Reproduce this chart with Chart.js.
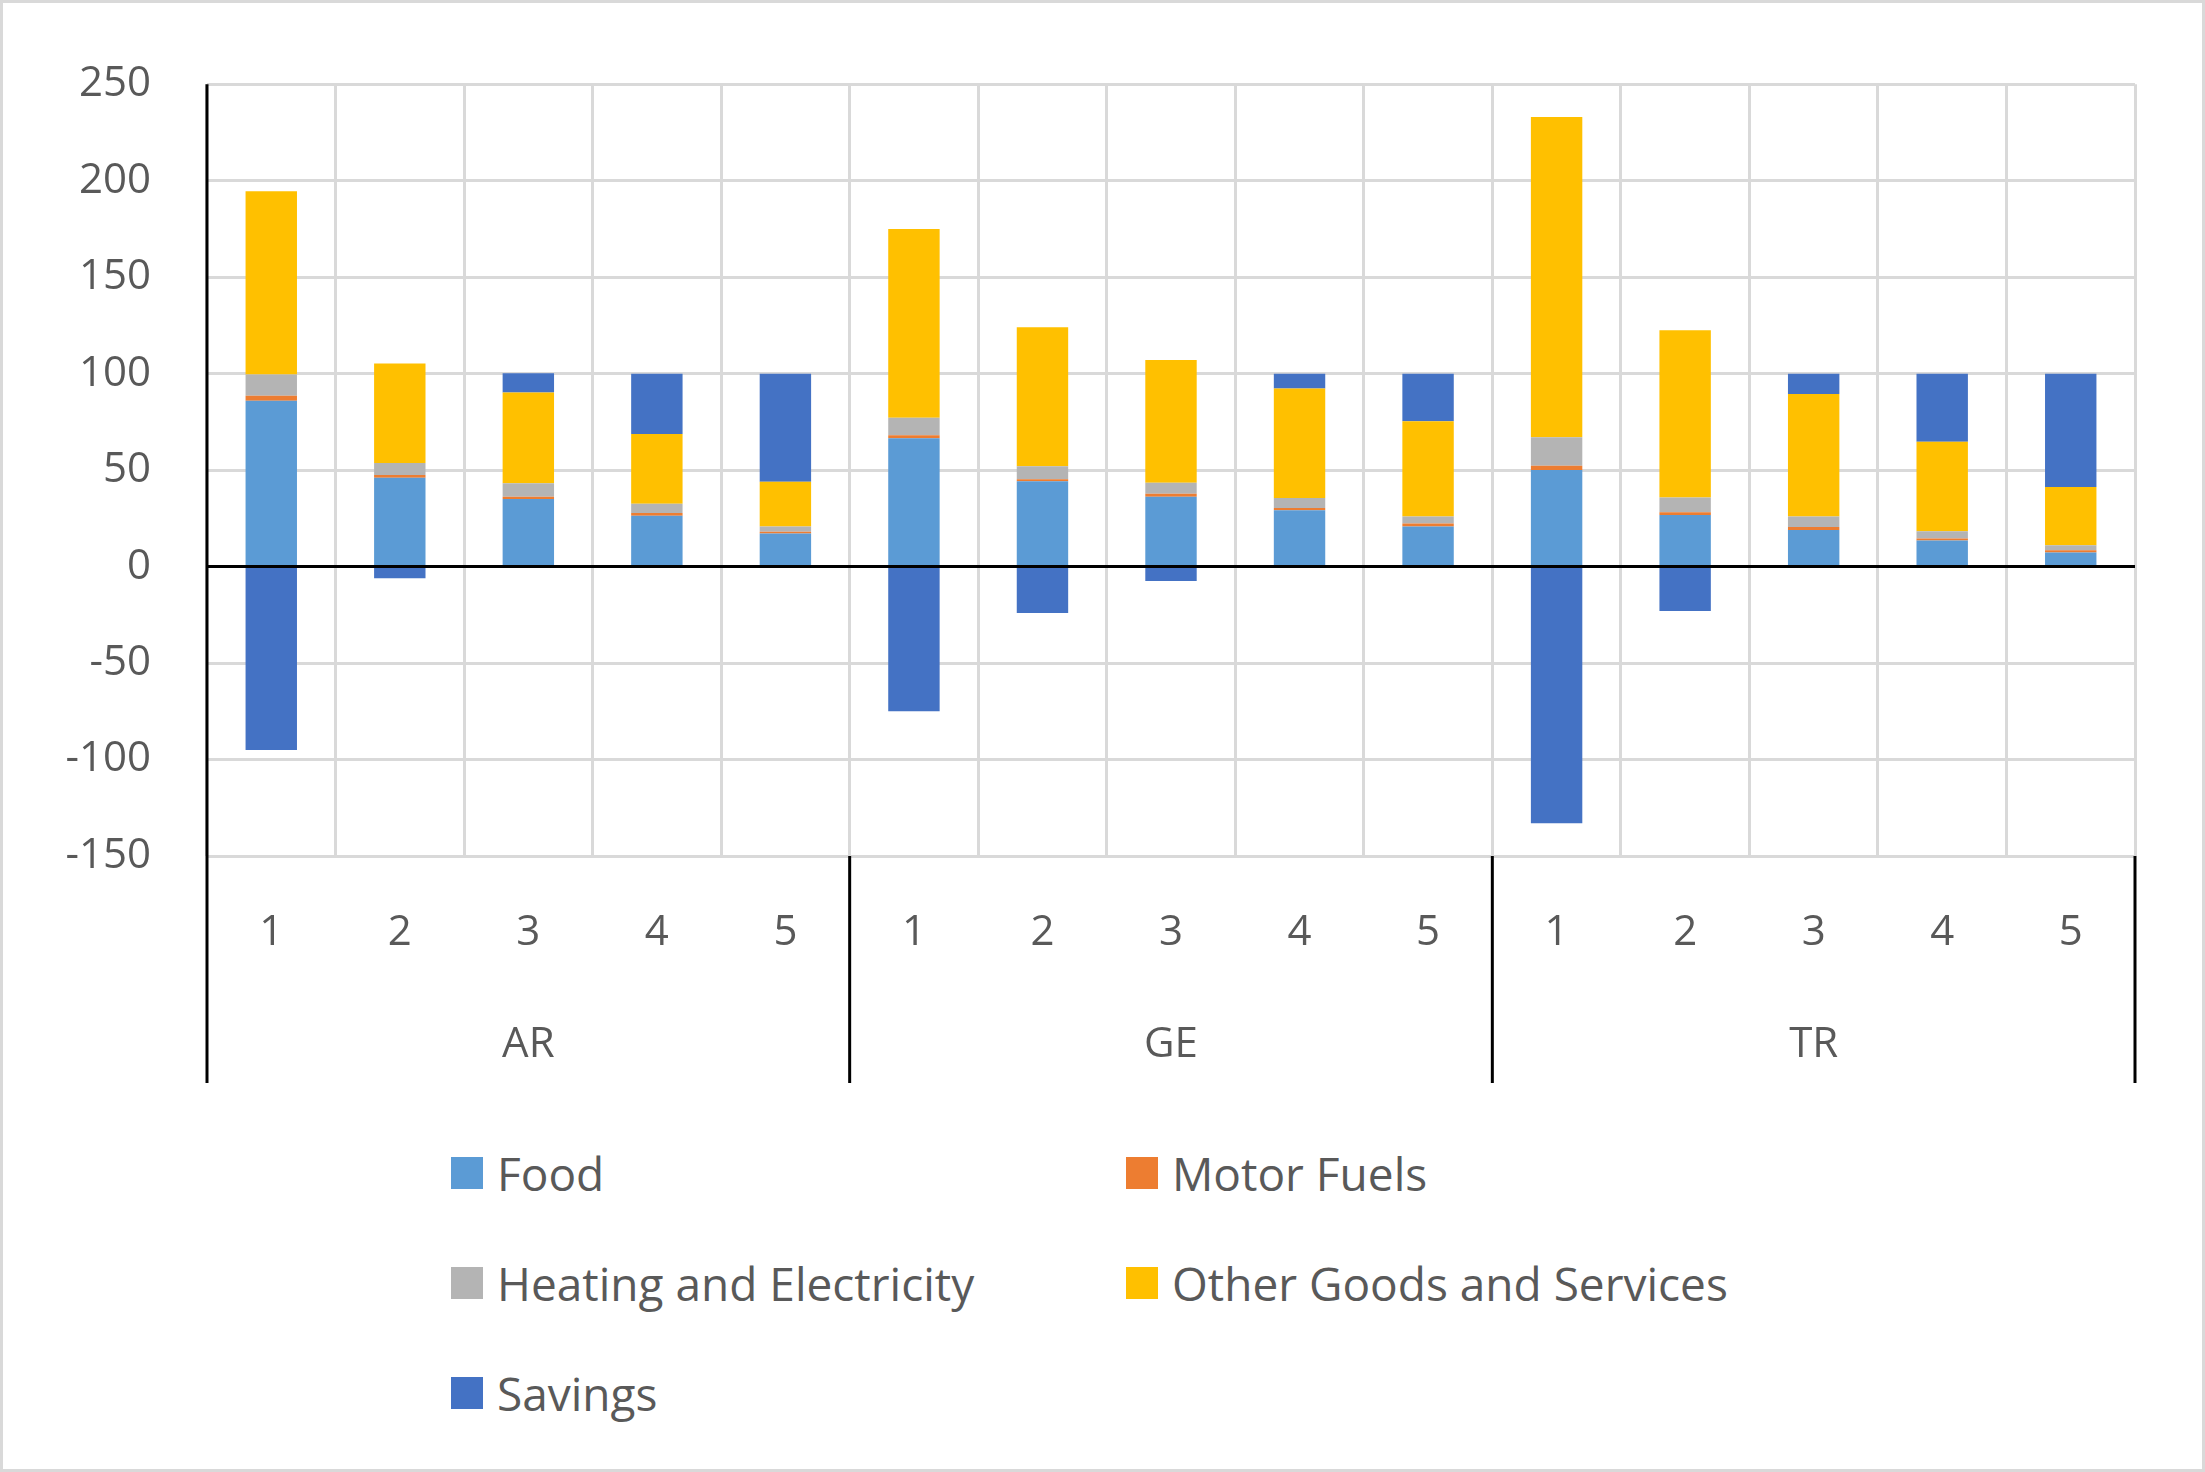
<!DOCTYPE html>
<html>
<head>
<meta charset="utf-8">
<script src="https://cdn.jsdelivr.net/npm/chart.js@4"></script>
<style>
  body { margin: 0; background: #fff; }
  #wrap { position: relative; width: 2205px; height: 1472px; box-sizing: border-box; border: 3px solid #d9d9d9; }
  #chartCanvas { position: absolute; left: 0; top: 0; }
  #legend { position: absolute; left: 448px; top: 1135px; display: grid; grid-template-columns: 675px 675px; row-gap: 40px;
            font-family: "Open Sans", Lato, sans-serif; font-size: 46px; color: #595959; }
  .item { display: flex; align-items: center; height: 70px; }
  .sw { width: 32px; height: 32px; margin-right: 14px; }
</style>
</head>
<body>
<div id="wrap">
  <canvas id="chartCanvas" width="2205" height="1100" style="width:2205px;height:1100px"></canvas>
  <div id="legend"></div>
</div>
<script>
const groups = ['AR', 'GE', 'TR'];
const quintiles = ['1', '2', '3', '4', '5'];
const labels = groups.flatMap(g => quintiles.map(q => q));

const food      = [86, 46, 35, 26.3, 17.2,   66.5, 44.2, 36.2, 29.2, 20.8,   50, 26.7, 19, 13.5, 7.3];
const motorFuel = [2.5, 1.5, 1.2, 1.5, 0.8,  1.5, 1, 1.5, 1.1, 1.5,          2.3, 1.5, 1.5, 1.1, 1.1];
const heating   = [11, 6.2, 7, 4.7, 2.8,     9.1, 6.8, 5.8, 5.2, 3.7,        14.7, 7.6, 5.5, 3.7, 2.6];
const other     = [95, 51.5, 47, 36.2, 23.1, 97.9, 72, 63.5, 56.8, 49.3,     166, 86.7, 63.4, 46.4, 30.3];
const savings   = [-95, -6, 10, 31.3, 56.1,  -75, -24, -7.5, 7.7, 24.7,      -133, -23, 10.6, 35.3, 58.7];

const series = [
    { label: 'Food', data: food, color: '#5b9bd5' },
    { label: 'Motor Fuels', data: motorFuel, color: '#ed7d31' },
    { label: 'Heating and Electricity', data: heating, color: '#b4b4b4' },
    { label: 'Other Goods and Services', data: other, color: '#ffc000' },
    { label: 'Savings', data: savings, color: '#4472c4' }
];

const textColor = '#595959';
const font = { family: '"Open Sans", Lato, sans-serif', size: 42 };

const groupPlugin = {
    id: 'groups',
    afterDraw(chart) {
        const ctx = chart.ctx;
        const x = chart.scales.x;
        const area = chart.chartArea;
        const step = (area.right - area.left) / labels.length;
        ctx.save();
        ctx.strokeStyle = '#000';
        ctx.lineWidth = 3;
        for (let i = 0; i <= groups.length; i++) {
            const px = area.left + i * quintiles.length * step;
            ctx.beginPath();
            ctx.moveTo(px, area.bottom);
            ctx.lineTo(px, 1080);
            ctx.stroke();
        }
        ctx.fillStyle = textColor;
        ctx.font = `42px ${font.family}`;
        ctx.textAlign = 'center';
        ctx.textBaseline = 'middle';
        groups.forEach((g, i) => {
            const cx = area.left + (i + 0.5) * quintiles.length * step;
            ctx.fillText(g, cx, 1042);
        });
        // y axis line
        ctx.beginPath();
        ctx.moveTo(area.left, area.top);
        ctx.lineTo(area.left, area.bottom);
        ctx.stroke();
        ctx.restore();
    }
};

new Chart(document.getElementById('chartCanvas'), {
    type: 'bar',
    data: {
        labels,
        datasets: series.map(s => ({
            label: s.label, data: s.data, backgroundColor: s.color,
            barPercentage: 0.4, categoryPercentage: 1
        }))
    },
    options: {
        responsive: false,
        animation: false,
        layout: { padding: { top: 74, right: 73, left: 0, bottom: 0 } },
        plugins: { legend: { display: false }, tooltip: { enabled: false } },
        scales: {
            x: {
                stacked: true,
                grid: { offset: true, color: '#d9d9d9', lineWidth: 3, drawTicks: false },
                border: { display: false },
                ticks: { color: textColor, font, padding: 52 },
                afterFit: s => { s.height = 1100 - 74 - 779; }
            },
            y: {
                stacked: true,
                min: -150, max: 250,
                ticks: { stepSize: 50, color: textColor, font, padding: 56 },
                grid: {
                    drawTicks: false,
                    color: c => c.tick.value === 0 ? '#000' : '#d9d9d9',
                    lineWidth: 3
                },
                border: { display: false },
                afterFit: s => { s.width = 204; }
            }
        }
    },
    plugins: [groupPlugin]
});

const legend = document.getElementById('legend');
series.forEach(s => {
    const item = document.createElement('div');
    item.className = 'item';
    item.innerHTML = `<span class="sw" style="background:${s.color}"></span>${s.label}`;
    legend.appendChild(item);
});
</script>
</body>
</html>
